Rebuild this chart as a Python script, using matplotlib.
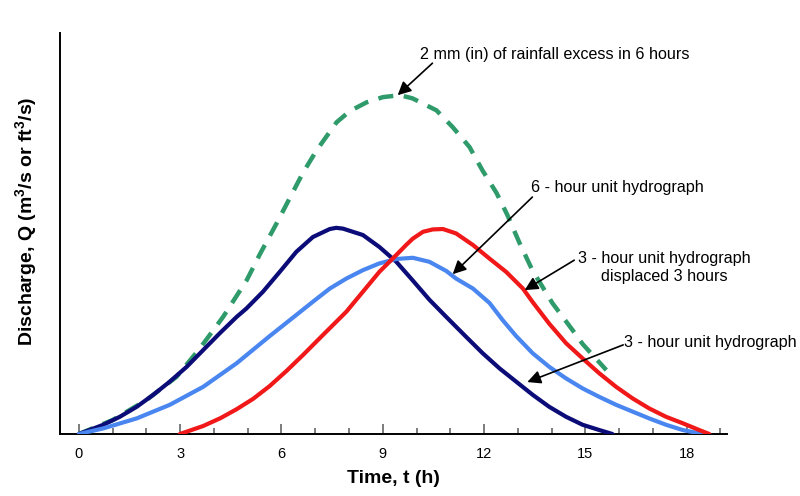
import numpy as np
import matplotlib
matplotlib.use("Agg")
import matplotlib.pyplot as plt
from matplotlib.ticker import MultipleLocator

plt.rcParams["font.family"] = ["Liberation Sans", "DejaVu Sans"]
plt.rcParams["mathtext.default"] = "regular"

# ── data ─────────────────────────────────────────────────────────────────────
# 3-hour unit hydrograph
t_uh3 = [0, 0.72, 1.21, 1.71, 2.2, 2.69, 3.19, 3.68, 4.17, 4.67, 4.96, 5.45,
         5.95, 6.44, 6.93, 7.43, 7.62, 7.82, 8.41, 8.9, 9.4, 9.89, 10.38, 10.88,
         11.47, 11.96, 12.46, 12.95, 13.44, 13.93, 14.43, 14.92, 15.41, 15.8]
q_uh3 = [0, 0.23, 0.43, 0.68, 0.98, 1.31, 1.68, 2.1, 2.52, 2.93, 3.14, 3.56,
         4.06, 4.56, 4.93, 5.13, 5.16, 5.14, 4.98, 4.68, 4.31, 3.84, 3.36, 2.93,
         2.43, 2.02, 1.64, 1.31, 0.98, 0.68, 0.43, 0.23, 0.1, 0.0]

# 6-hour unit hydrograph
t_uh6 = [0, 0.72, 1.71, 2.69, 3.68, 4.67, 5.65, 6.44, 6.93, 7.43, 7.92, 8.41,
         8.9, 9.4, 9.89, 10.38, 10.88, 11.17, 11.67, 12.16, 12.55, 12.95, 13.44,
         13.93, 14.43, 14.92, 15.41, 15.91, 16.4, 16.89, 17.39, 17.88, 18.47]
q_uh6 = [0, 0.14, 0.39, 0.73, 1.18, 1.77, 2.45, 2.98, 3.31, 3.64, 3.89, 4.1,
         4.27, 4.38, 4.41, 4.31, 4.08, 3.89, 3.64, 3.28, 2.85, 2.45, 2.02,
         1.68, 1.39, 1.14, 0.93, 0.73, 0.56, 0.39, 0.23, 0.1, 0.0]

# 3-hour unit hydrograph displaced 3 hours
t_lag = [2.99, 3.68, 4.2, 4.67, 5.16, 5.65, 6.15, 6.64, 7.23, 7.92, 8.41, 8.9,
         9.4, 9.69, 9.89, 10.19, 10.48, 10.78, 11.17, 11.67, 12.16, 12.65,
         13.15, 13.44, 13.93, 14.43, 14.92, 15.41, 15.91, 16.4, 16.89, 17.39,
         17.88, 18.37, 18.67]
q_lag = [0, 0.2, 0.4, 0.62, 0.88, 1.2, 1.58, 1.98, 2.48, 3.06, 3.56, 4.06,
         4.48, 4.73, 4.89, 5.06, 5.12, 5.13, 5.02, 4.73, 4.39, 4.06,
         3.64, 3.3, 2.76, 2.27, 1.89, 1.52, 1.18, 0.89, 0.64, 0.43,
         0.27, 0.1, 0.0]

# 2 mm (in) of rainfall excess in 6 hours
t_2mm = [0, 1.0, 2.0, 2.89, 3.58, 4.27, 4.97, 5.36, 5.86, 6.63, 7.04, 7.63,
         8.02, 8.52, 9.0, 9.5, 9.88, 10.59, 11.07, 11.57, 11.95, 12.37, 12.69,
         13.05, 13.43, 14.02, 14.62, 14.92, 15.62]
q_2mm = [0, 0.35, 0.85, 1.43, 2.14, 2.93, 3.85, 4.5, 5.28, 6.53, 7.1, 7.8,
         8.08, 8.3, 8.43, 8.48, 8.4, 8.1, 7.68, 7.18, 6.6, 6.03, 5.48,
         4.78, 4.1, 3.28, 2.6, 2.25, 1.6]

C_NAVY  = "#0c0c78"
C_LIGHT = "#4a86f0"
C_RED   = "#f01818"
C_GREEN = "#2f9b6b"

# ── figure ───────────────────────────────────────────────────────────────────
fig = plt.figure(figsize=(8, 4.96), dpi=100)
ax = fig.add_axes([0.075, 0.125, 0.834, 0.808])

ax.plot(t_2mm, q_2mm, color=C_GREEN, lw=3.2, linestyle=(0, (3.4, 2.4)),
        zorder=2)
ax.plot(t_uh3, q_uh3, color=C_NAVY, lw=3, solid_capstyle="round",
        solid_joinstyle="round", zorder=3)
ax.plot(t_uh6, q_uh6, color=C_LIGHT, lw=3, solid_capstyle="round",
        solid_joinstyle="round", zorder=4)
ax.plot(t_lag, q_lag, color=C_RED, lw=3, solid_capstyle="round",
        solid_joinstyle="round", zorder=5)

ax.set_xlim(-0.56, 19.2)
ax.set_ylim(0, 10.03)

for s in ("top", "right"):
    ax.spines[s].set_visible(False)
ax.spines["left"].set_linewidth(1.4)
ax.spines["bottom"].set_linewidth(1.4)

ax.set_yticks([])
ax.xaxis.set_major_locator(MultipleLocator(3))
ax.xaxis.set_minor_locator(MultipleLocator(1))
ax.set_xticks(np.arange(0, 19, 3))
ax.tick_params(axis="x", which="major", direction="in", length=7, width=1.2,
               color="#666666", labelsize=10.5, pad=9)
ax.tick_params(axis="x", which="minor", direction="in", length=4, width=1.2,
               color="#666666")

ax.set_xlabel("Time, t (h)", fontsize=14, fontweight="bold")
ax.xaxis.set_label_coords(0.5, -0.09)
ax.set_ylabel(r"Discharge, Q (m$^3$/s or ft$^3$/s)", fontsize=14,
              fontweight="bold")
ax.yaxis.set_label_coords(-0.032, 0.53)

# ── annotations ──────────────────────────────────────────────────────────────
arrow = dict(arrowstyle="-|>", color="black", lw=1.2, mutation_scale=20,
             shrinkA=0, shrinkB=0)
fs = 11.6

ax.annotate("", xy=(9.44, 8.48), xytext=(10.47, 9.28), arrowprops=arrow,
            zorder=6)
ax.text(10.09, 9.5, "2 mm (in) of rainfall excess in 6 hours", fontsize=fs,
        ha="left", va="center", clip_on=False)

ax.annotate("", xy=(11.07, 4.0), xytext=(13.43, 5.93), arrowprops=arrow,
            zorder=6)
ax.text(13.4, 6.18, "6 - hour unit hydrograph", fontsize=fs,
        ha="left", va="center", clip_on=False)

ax.annotate("", xy=(13.2, 3.6), xytext=(14.67, 4.35), arrowprops=arrow,
            zorder=6)
ax.text(17.34, 4.16, "3 - hour unit hydrograph\ndisplaced 3 hours",
        fontsize=fs, ha="center", va="center", multialignment="center",
        linespacing=1.25, clip_on=False)

ax.annotate("", xy=(13.28, 1.3), xytext=(16.12, 2.23), arrowprops=arrow,
            zorder=6)
ax.text(16.15, 2.28, "3 - hour unit hydrograph", fontsize=fs,
        ha="left", va="center", clip_on=False)

plt.savefig("out.png", dpi=100)
plt.close()
